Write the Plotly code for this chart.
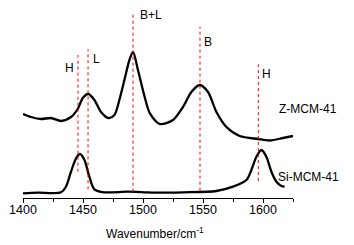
import plotly.graph_objects as go

# Z-MCM-41 spectrum (wavenumber, absorbance a.u.)
z_wn = [1400, 1406.7, 1415, 1423.3, 1431.7, 1440, 1445.6, 1449.8, 1454.5, 1459.5,
        1465, 1471.2, 1476.2, 1480.3, 1484.5, 1488.7, 1491.7, 1495.8, 1501.4, 1505.6,
        1514, 1525, 1533.3, 1540.3, 1547.3, 1554.2, 1561.2, 1569.5, 1580.6, 1595.8,
        1605.6, 1616.7, 1625]
z_abs = [0.84, 0.81, 0.79, 0.80, 0.77, 0.81, 0.89, 1.00, 1.04, 0.98,
         0.86, 0.80, 0.83, 0.98, 1.18, 1.38, 1.46, 1.28, 1.01, 0.85,
         0.74, 0.78, 0.91, 1.06, 1.13, 1.06, 0.86, 0.71, 0.62, 0.59,
         0.575, 0.60, 0.62]

# Si-MCM-41 spectrum
si_wn = [1400, 1412.3, 1431.7, 1435.8, 1440, 1444.2, 1447.5, 1451.2, 1455.3, 1459.5,
         1467.8, 1487.3, 1501.2, 1509.5, 1533.3, 1561.2, 1575, 1586.2, 1590.3, 1594.5,
         1598.7, 1602.8, 1607, 1611.2, 1615.3, 1618]
si_abs = [0.047, 0.053, 0.057, 0.113, 0.263, 0.397, 0.44, 0.38, 0.213, 0.087,
          0.057, 0.063, 0.057, 0.053, 0.057, 0.07, 0.113, 0.18, 0.28, 0.413,
          0.48, 0.413, 0.263, 0.163, 0.12, 0.113]

# Reference band markers
band_wn = [1445.8, 1454.2, 1491.7, 1547.5, 1596.1]
band_top = [1.43, 1.487, 1.863, 1.713, 1.337]
band_bottom = [0.263, 0.087, 0.063, 0.073, 0.17]
band_labels = ["H", "L", "B+L", "B", "H"]
label_wn = [1438.9, 1461.2, 1507, 1553.9, 1602.8]
label_y = [1.30, 1.39, 1.83, 1.56, 1.237]

series_names = ["Z-MCM-41", "Si-MCM-41"]
series_label_y = [0.89, 0.213]

tick_vals = [1400, 1450, 1500, 1550, 1600]
x_title = "Wavenumber/cm<sup>-1</sup>"

fig = go.Figure()
for wn, ab in [(z_wn, z_abs), (si_wn, si_abs)]:
    fig.add_trace(go.Scatter(x=wn, y=ab, mode="lines",
                             line=dict(color="black", width=2.3, shape="spline", smoothing=0.8),
                             showlegend=False))

for x, t, b in zip(band_wn, band_top, band_bottom):
    fig.add_shape(type="line", xref="x", yref="y", x0=x, x1=x, y0=b, y1=t,
                  line=dict(color="red", width=1, dash="dot"))

for txt, x, y in zip(band_labels, label_wn, label_y):
    fig.add_annotation(x=x, y=y, xref="x", yref="y", text=txt, showarrow=False,
                       xanchor="center", yanchor="middle",
                       font=dict(size=12, color="black"))

for name, y in zip(series_names, series_label_y):
    fig.add_annotation(x=1.056, y=y, xref="paper", yref="y", text=name, showarrow=False,
                       xanchor="center", yanchor="middle",
                       font=dict(size=12, color="black"))

fig.add_annotation(x=0.489, y=-0.184, xref="paper", yref="paper", text=x_title,
                   showarrow=False, xanchor="center", yanchor="middle",
                   font=dict(size=12, color="black"))

fig.update_layout(
    width=346, height=237,
    margin=dict(l=15, r=61, t=0, b=47, autoexpand=False),
    paper_bgcolor="white", plot_bgcolor="white",
    font=dict(family="Arial, Liberation Sans, sans-serif", color="black"),
    xaxis=dict(range=[1400, 1625], tickvals=tick_vals, ticks="outside", ticklen=4,
               tickwidth=1, tickcolor="black", showline=True, linecolor="black",
               linewidth=1, showgrid=False, zeroline=False, automargin=False,
               tickfont=dict(size=12.5), ticklabelstandoff=-4,
               minor=dict(dtick=25, ticks="outside", ticklen=3, tickcolor="black")),
    yaxis=dict(range=[0, 1.90], visible=False),
)

fig.write_html("out.html")
